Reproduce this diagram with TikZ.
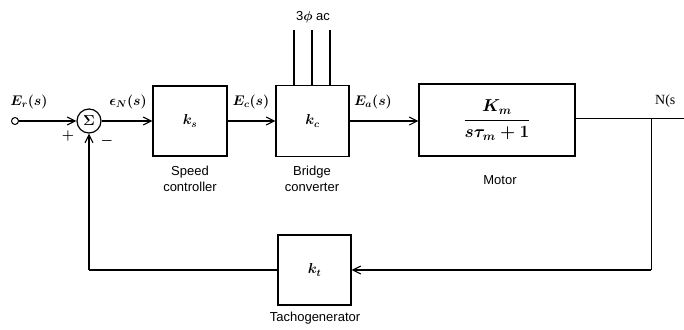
\documentclass[tikz,border=0pt]{standalone}
\usepackage{fix-cm}
\usepackage{fontspec}
\setmainfont{Liberation Serif}
\setsansfont{Liberation Sans}
\usepackage{amsmath}
\usepackage{bm}
\usetikzlibrary{arrows.meta}
\begin{document}
\begin{tikzpicture}[x=1pt,y=-1pt,
  blk/.style={draw,line width=1.1pt,inner sep=0pt},
  ln/.style={line width=1.3pt},
  arr/.style={ln,-{Straight Barb[length=8pt,width=8pt,line width=1.1pt]}},
  lab/.style={font=\fontsize{14}{15}\selectfont},
  captxt/.style={font=\sffamily\fontsize{13}{16}\selectfont,align=center}]
\useasboundingbox (0,0) rectangle (684,329);
% input
\node[circle,draw,line width=1pt,inner sep=0pt,minimum size=7pt] (in) at (15,121) {};
\node[circle,draw,line width=1.2pt,inner sep=0pt,minimum size=24pt] (sum) at (89,121) {\Large$\bm{\Sigma}$};
\node[blk,minimum width=74pt,minimum height=70pt] (sc) at (190,121) {\Large$\bm{k_s}$};
\node[blk,minimum width=73pt,minimum height=71pt] (bc) at (312.5,121) {\Large$\bm{k_c}$};
\node[blk,minimum width=156pt,minimum height=72pt] (mo) at (497,120) {\LARGE$\boldsymbol{\dfrac{K_m}{s\tau_m+1}}$};
\node[blk,minimum width=73pt,minimum height=70pt] (tg) at (314.5,270) {\Large$\bm{k_t}$};
% captions
\node[captxt] (c1) at (190,179) {Speed\\controller};
\node[captxt] (c2) at (312,179) {Bridge\\converter};
\node[captxt] (c3) at (500,180) {Motor};
\node[captxt] (c4) at (315,318) {Tachogenerator};
\node[captxt] (ac) at (313,17) {3$\bm{\phi}$ ac};
% three-phase lines
\foreach \xx/\nm in {294/a,312/b,330/c}{
  \coordinate (t\nm) at (\xx,30);
  \draw[ln] (t\nm) -- (\xx,85);
}
% forward path
\draw[arr] (in) -- (sum);
\draw[arr] (sum) -- (sc);
\draw[arr] (sc) -- (bc);
\draw[arr] (bc.east) -- (mo.west |- bc.east);
\coordinate (br) at (651,118);
\coordinate (out) at (684,118);
\draw[line width=0.9pt] (mo.east |- br) -- (out);
\draw[line width=0.9pt] (br) -- (br |- tg.east);
\draw[arr] (br |- tg.east) -- (tg.east);
\coordinate (fb) at (89,270);
\draw[ln] (tg.west) -- (fb);
\draw[arr] (fb) -- (sum.south);
% labels
\node[lab] (l1) at (29,102) {$\bm{E_r(s)}$};
\node[lab] (l2) at (128,102) {$\bm{\epsilon_N(s)}$};
\node[lab] (l3) at (251,102) {$\bm{E_c(s)}$};
\node[lab] (l4) at (373,102) {$\bm{E_a(s)}$};
\node[lab,anchor=west,inner sep=0pt] (l5) at (655,101) {N(s};
\node[lab] (pl) at (68,136) {$\bm{+}$};
\node[lab] (mi) at (107,141) {$\bm{-}$};
\end{tikzpicture}
\end{document}
